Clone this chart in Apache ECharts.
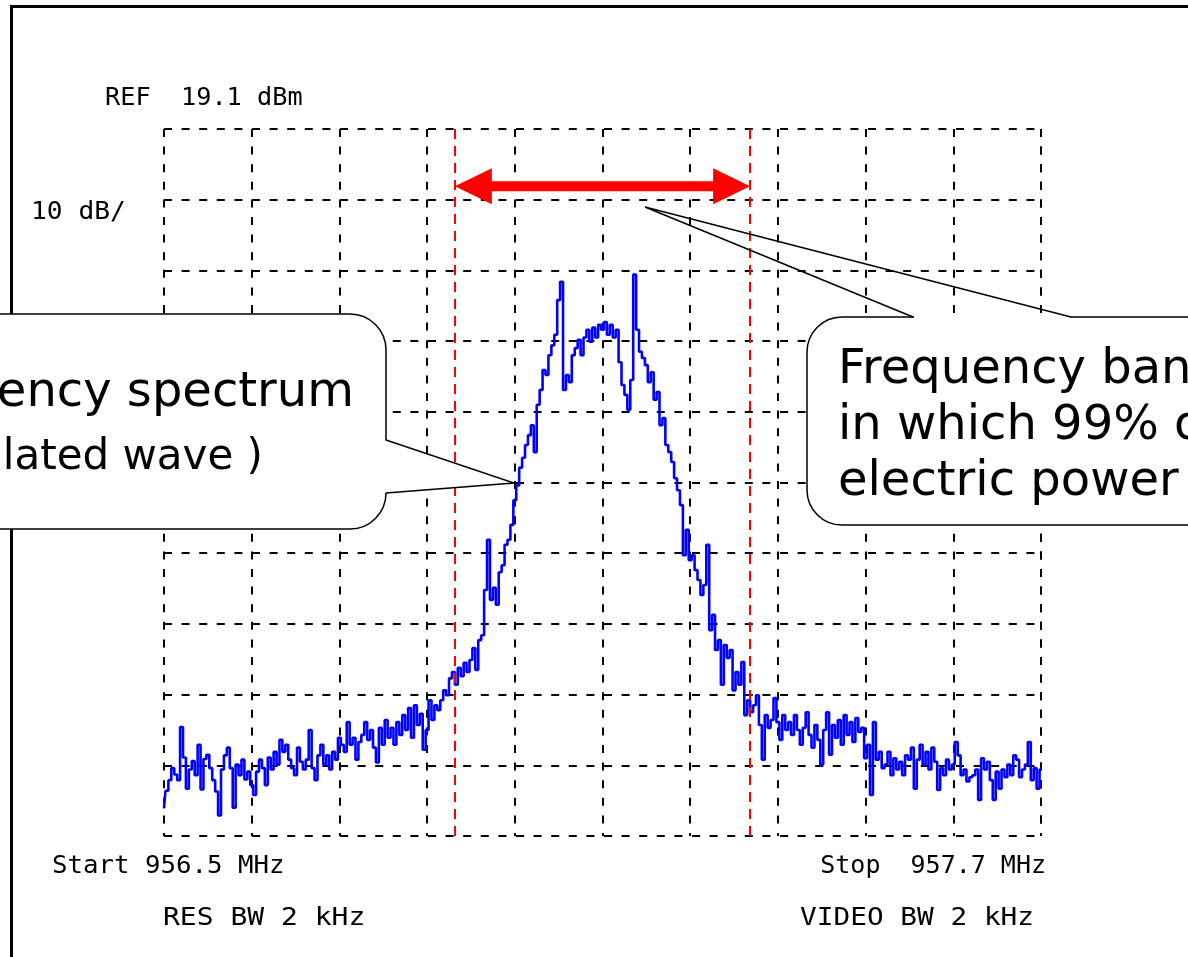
<!DOCTYPE html>
<html><head><meta charset="utf-8">
<script src="https://cdn.jsdelivr.net/npm/echarts@6/dist/echarts.min.js"></script>
<style>html,body{margin:0;padding:0;background:#fff;overflow:hidden}#c{width:1188px;height:957px}</style>
</head><body><div id="c"></div>
<script>
// ---- analyzer settings ----
const REF_DBM = 19.1;
const DB_PER_DIV = 10;
const DIVS_Y = 10;
const FREQ_START_MHZ = 956.5;
const FREQ_STOP_MHZ = 957.7;
const FREQ_DIV_KHZ = 120;
// occupied bandwidth markers (99% power)
const OBW_START_MHZ = 956.898;
const OBW_STOP_MHZ = 957.302;
const ARROW_DBM = 11.0;

// ---- text ----
const REF_LABEL = 'REF  19.1 dBm';
const SCALE_LABEL = '10 dB/';
const START_LABEL = 'Start 956.5 MHz';
const STOP_LABEL = 'Stop  957.7 MHz';
const RBW_LABEL = 'RES BW 2 kHz';
const VBW_LABEL = 'VIDEO BW 2 kHz';
const LEFT_CALLOUT = ['Frequency spectrum', '( modulated wave )'];
const RIGHT_CALLOUT = ['Frequency band', 'in which 99% of', 'electric power'];

// ---- trace (dBm), 301 points from start to stop ----
const traceDbm = [
 -77,-74.5,-73,-71.3,-72.2,-73,-65.5,-69.8,-74.2,-71.5,
 -70.3,-72.3,-68,-74.3,-70,-69.4,-71.3,-73,-74.6,-78,
 -71.5,-69.5,-68.4,-71.3,-76.9,-70.8,-72.3,-70.1,-72.9,-71.8,
 -73.7,-75.1,-71.8,-70.1,-71.3,-73.7,-69.8,-71.5,-69,-70.8,
 -67.3,-69,-68,-70.1,-71.3,-72.3,-68.4,-70.4,-71.5,-70.1,
 -65.9,-71.3,-73,-69.5,-68,-70.8,-69.5,-71.5,-69,-70.1,
 -67,-68,-69,-64.8,-68,-67,-70.1,-67.6,-66.6,-64.8,
 -67.3,-65.9,-68.4,-70.5,-65.6,-68,-64.5,-67,-65.6,-68,
 -64.8,-66.6,-63.8,-65.9,-62.8,-67,-62.4,-65.2,-63.6,-68.7,
 -65.9,-61.7,-64.5,-62.4,-63.1,-61.7,-60.3,-61,-58.6,-57.7,
 -59.5,-57.1,-58.3,-56.4,-57.7,-56,-54.3,-57.4,-53.2,-52.5,
 -46.1,-39,-47.5,-45.8,-48.2,-43.6,-42.6,-39.7,-39,-36.9,
 -33.4,-31.3,-28.8,-27.4,-25.6,-24.2,-22.8,-26.6,-19.9,-17.8,
 -15,-15.7,-12.9,-11.5,-10,-5.1,-2.5,-17.8,-15.7,-16.7,
 -12.9,-11.9,-10.7,-12.9,-10.4,-9.3,-11,-9,-10.4,-8.6,
 -9.3,-8.2,-10,-8.6,-10.4,-9.3,-13.9,-17.1,-18.5,-20.6,
 -16.4,-1.5,-9.3,-12.4,-13.3,-14.3,-16.7,-15.3,-19.2,-18.1,
 -22.8,-21.8,-25.6,-26.6,-28,-30.3,-32,-34.1,-41.2,-37.6,
 -41.9,-41.2,-43.3,-44.7,-46.8,-45.4,-39.7,-51.8,-49.6,-54.6,
 -53.2,-59.5,-53.9,-55.7,-54.6,-60.3,-57.7,-59.5,-56.3,-63.8,
 -61.7,-63.4,-62.4,-61,-65.2,-70.1,-63.8,-65.6,-64.5,-61.4,
 -64.8,-67.3,-63.8,-65.9,-64.8,-66.6,-63.8,-65.9,-68,-65.6,
 -63.4,-66.6,-68.4,-65.2,-67.3,-70.8,-65.9,-63.4,-69.4,-65.2,
 -67,-64.5,-68,-63.8,-66.6,-64.8,-67.6,-64.2,-66.2,-65.6,
 -69.9,-68,-75.1,-64.8,-70.1,-69,-71.3,-70.8,-69,-72.3,
 -69.9,-71.5,-70.4,-72.3,-69.5,-70.1,-68.4,-74.2,-70.1,-68,
 -70.8,-69,-71.5,-68.4,-70.4,-74.4,-71.3,-72.3,-70.1,-71.5,
 -70.8,-67.6,-69.5,-72.3,-71.5,-73.2,-72.6,-72.3,-71.5,-75.8,
 -69.9,-71.5,-70.4,-73,-75.8,-71.8,-74.2,-71.5,-72.6,-70.8,
 -72.3,-69.5,-70.1,-72.6,-71.5,-70.8,-67.6,-73,-71.3,-74.2,
 -71.5
];

const BOTTOM_DBM = REF_DBM - DB_PER_DIV * DIVS_Y;
const SPAN_KHZ = (FREQ_STOP_MHZ - FREQ_START_MHZ) * 1000;
const STEP_KHZ = SPAN_KHZ / (traceDbm.length - 1);
const toX = mhz => (mhz - FREQ_START_MHZ) * 1000;
const toY = dbm => dbm - BOTTOM_DBM;
const seriesData = traceDbm.map((v, i) => [i * STEP_KHZ, toY(v)]);

const chart = echarts.init(document.getElementById('c'), null, {renderer: 'canvas'});
const gridDash = {color: '#000', width: 2, type: [8, 9.6]};
chart.setOption({
  animation: false,
  backgroundColor: '#fff',
  grid: {left: 164, top: 129, width: 877, height: 707},
  xAxis: {type: 'value', min: 0, max: SPAN_KHZ, interval: FREQ_DIV_KHZ,
    axisLine: {show: false}, axisTick: {show: false}, axisLabel: {show: false},
    splitLine: {show: true, showMinLine: true, showMaxLine: true, lineStyle: gridDash}},
  yAxis: {type: 'value', min: 0, max: DB_PER_DIV * DIVS_Y, interval: DB_PER_DIV,
    axisLine: {show: false}, axisTick: {show: false}, axisLabel: {show: false},
    splitLine: {show: true, showMinLine: true, showMaxLine: true, lineStyle: gridDash}},
  series: [{
    type: 'line', data: seriesData, step: 'middle', symbol: 'none',
    lineStyle: {color: '#0000ff', width: 2.6}, z: 3,
    markLine: {
      silent: true, symbol: 'none', label: {show: false},
      lineStyle: {color: '#ff0000', width: 2, type: [10, 7]},
      data: [{xAxis: toX(OBW_START_MHZ)}, {xAxis: toX(OBW_STOP_MHZ)}]
    }
  }]
});

const p1 = chart.convertToPixel({gridIndex: 0}, [toX(OBW_START_MHZ), toY(ARROW_DBM)]);
const p2 = chart.convertToPixel({gridIndex: 0}, [toX(OBW_STOP_MHZ), toY(ARROW_DBM)]);
const ax1 = p1[0], ax2 = p2[0], ay = p1[1];
const HL = 37, HH = 18, SH = 5;

const monoFont = '25px "DejaVu Sans Mono"';
const txt = (x, y, text, font, align, sx) => ({type: 'text', x, y, z: 20, scaleX: sx || 1,
  style: {text, font, fill: '#000', textAlign: align, textVerticalAlign: 'middle'}});

chart.setOption({graphic: {elements: [
  // frame
  {type: 'line', z: 15, shape: {x1: 10, y1: 6.5, x2: 1188, y2: 6.5}, style: {stroke: '#000', lineWidth: 3}},
  {type: 'line', z: 15, shape: {x1: 11.5, y1: 5, x2: 11.5, y2: 957}, style: {stroke: '#000', lineWidth: 3}},
  // red double arrow
  {type: 'polygon', z: 16, shape: {points: [
    [ax1, ay], [ax1 + HL, ay - HH], [ax1 + HL, ay - SH], [ax2 - HL, ay - SH], [ax2 - HL, ay - HH],
    [ax2, ay], [ax2 - HL, ay + HH], [ax2 - HL, ay + SH], [ax1 + HL, ay + SH], [ax1 + HL, ay + HH]]},
    style: {fill: '#ff0000', stroke: null}},
  // instrument labels
  txt(105, 98, REF_LABEL, monoFont, 'left', 1.01),
  txt(31, 212, SCALE_LABEL, monoFont, 'left', 1.05),
  txt(52, 866, START_LABEL, monoFont, 'left', 1.03),
  txt(163, 918, RBW_LABEL, monoFont, 'left', 1.12),
  txt(1046, 866, STOP_LABEL, monoFont, 'right', 1.0),
  txt(1034, 918, VBW_LABEL, monoFont, 'right', 1.11),
  // left callout
  {type: 'rect', z: 18, shape: {x: -60, y: 314, width: 446, height: 215, r: 36},
    style: {fill: '#fff', stroke: '#000', lineWidth: 1.5}},
  {type: 'polygon', z: 19, shape: {points: [[384, 440], [514, 483], [384, 493]]},
    style: {fill: '#fff', stroke: null}},
  {type: 'polyline', z: 19, shape: {points: [[386, 440], [514, 483], [386, 493]]},
    style: {stroke: '#000', lineWidth: 1.5, fill: null}},
  txt(354, 394, LEFT_CALLOUT[0], '48px "DejaVu Sans"', 'right'),
  txt(263, 458, LEFT_CALLOUT[1], '42px "DejaVu Sans"', 'right'),
  // right callout
  {type: 'rect', z: 18, shape: {x: 807, y: 317, width: 460, height: 208, r: 35},
    style: {fill: '#fff', stroke: '#000', lineWidth: 1.5}},
  {type: 'line', z: 19, shape: {x1: 914, y1: 317, x2: 1070, y2: 317},
    style: {stroke: '#fff', lineWidth: 3}},
  {type: 'polyline', z: 19, shape: {points: [[913, 317], [645, 207], [1071, 317]]},
    style: {stroke: '#000', lineWidth: 1.5, fill: null}},
  txt(838, 371, RIGHT_CALLOUT[0], '48px "DejaVu Sans"', 'left'),
  txt(838, 427, RIGHT_CALLOUT[1], '48px "DejaVu Sans"', 'left'),
  txt(838, 483, RIGHT_CALLOUT[2], '48px "DejaVu Sans"', 'left')
]}});
</script></body></html>
